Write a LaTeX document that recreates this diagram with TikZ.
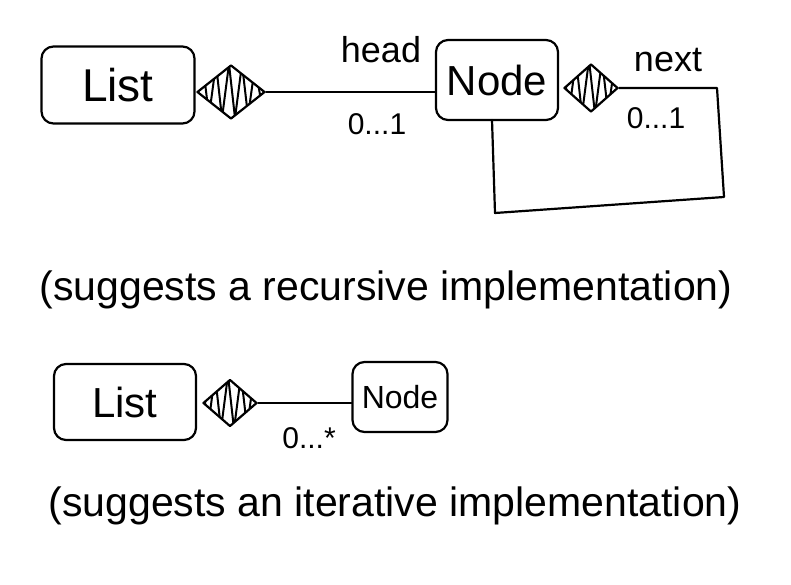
\documentclass[tikz,border=0pt]{standalone}
\usepackage{fontspec}
\setmainfont{Liberation Sans}
\usetikzlibrary{shapes.geometric,calc}
\tikzset{
  ink/.style={line width=2.2pt, line cap=round, line join=round, black},
  classbox/.style={ink, draw, rectangle, rounded corners=12pt, inner sep=0pt},
  compdiamond/.style={ink, draw, diamond, inner sep=0pt,
    path picture={\draw[ink, line width=2pt, shift={(path picture bounding box.center)}]
      (-36,0) -- (-28,-26) -- (-22,24) -- (-15,-28) -- (-9,26) -- (-2,-28) -- (4,26) -- (11,-28) -- (17,24) -- (24,-26) -- (32,20) -- (38,0);}},
  boxtext/.style={font=\fontsize{46}{48}\selectfont},
  smalltext/.style={font=\fontsize{36}{38}\selectfont},
  multtext/.style={font=\fontsize{30}{32}\selectfont},
  captiontext/.style={font=\fontsize{41}{44}\selectfont}
}
\begin{document}
\begin{tikzpicture}[x=1pt,y=-1pt]
\useasboundingbox (0,0) rectangle (791,585);

% ---------- top: recursive ----------
\node[classbox, minimum width=153pt, minimum height=77pt, boxtext] (list1) at (118,85) {List};
\node[compdiamond, minimum width=68pt, minimum height=54pt] (dia1) at (231,92) {};
\node[classbox, minimum width=122pt, minimum height=80pt, font=\fontsize{42}{44}\selectfont] (node1) at (497,80) {Node};
\draw[ink] (dia1.east) -- (dia1.east -| node1.west);
\node[smalltext] (head) at (381,50) {head};
\node[multtext] (m1) at (377,124) {0...1};

\node[compdiamond, minimum width=54pt, minimum height=48pt] (dia2) at (591,88) {};
\coordinate (c1) at (717,88);
\coordinate (c2) at (724,197);
\coordinate (c3) at (495,213);
\coordinate (c4) at (492,120);
\draw[ink] (dia2.east) -- (c1) -- (c2) -- (c3) -- (c4);
\node[smalltext] (next) at (668,60) {next};
\node[multtext] (m2) at (656,118) {0...1};

\node[captiontext] (cap1) at (386,290) {(suggests a recursive implementation)};

% ---------- bottom: iterative ----------
\node[classbox, minimum width=142pt, minimum height=76pt, font=\fontsize{42}{44}\selectfont] (list2) at (125,402) {List};
\node[compdiamond, minimum width=54pt, minimum height=47pt] (dia3) at (230,403) {};
\node[classbox, minimum width=95pt, minimum height=70pt, font=\fontsize{32}{34}\selectfont] (node2) at (400,397) {Node};
\draw[ink] (dia3.east) -- (dia3.east -| node2.west);
\node[multtext] (m3) at (309,438) {0...*};

\node[captiontext] (cap2) at (395,506) {(suggests an iterative implementation)};
\end{tikzpicture}
\end{document}
